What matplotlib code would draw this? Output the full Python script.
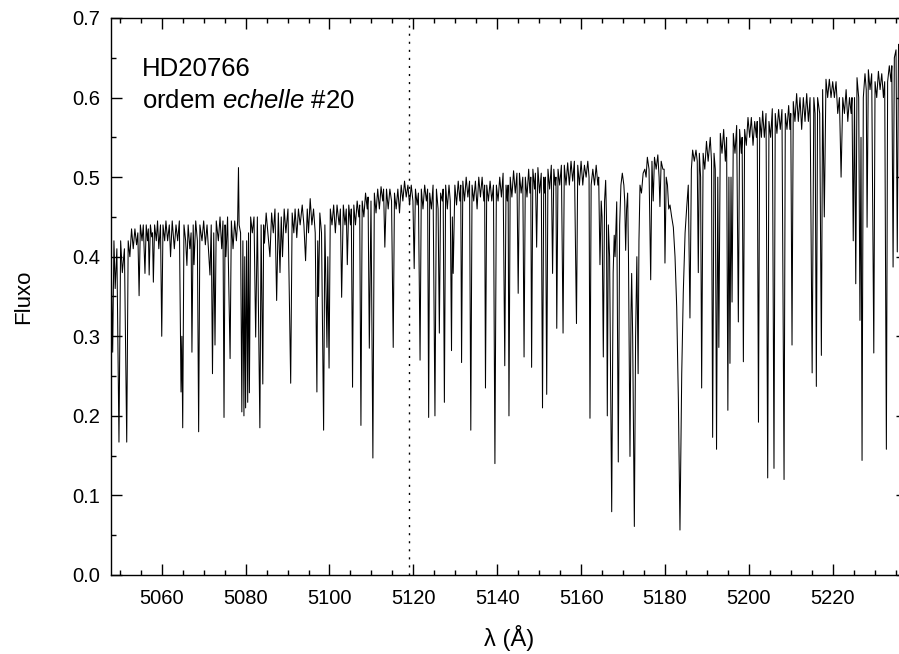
import numpy as np
import matplotlib.pyplot as plt
from matplotlib.ticker import MultipleLocator

plt.rcParams['font.family'] = ['Liberation Sans', 'DejaVu Sans']
plt.rcParams['mathtext.fontset'] = 'custom'
plt.rcParams['mathtext.it'] = 'Liberation Sans:italic'
plt.rcParams['mathtext.rm'] = 'Liberation Sans'

# espectro: (lambda [A], fluxo) - picos e fundos das linhas
reg_5048 = [(5047.9, 0.41), (5048.3, 0.28), (5048.6, 0.42), (5048.9, 0.36), (5049.3, 0.41),
            (5049.8, 0.167), (5050.2, 0.42), (5050.6, 0.38), (5051.1, 0.41), (5051.65, 0.167),
            (5052.0, 0.42), (5052.4, 0.40), (5052.8, 0.435), (5053.2, 0.41), (5053.6, 0.435),
            (5054.0, 0.415), (5054.3, 0.43), (5054.6, 0.351), (5054.9, 0.44), (5055.3, 0.42),
            (5055.6, 0.44), (5056.0, 0.379), (5056.3, 0.44), (5056.6, 0.42), (5056.8, 0.435),
            (5057.0, 0.377), (5057.3, 0.44), (5057.6, 0.425), (5057.8, 0.43), (5058.0, 0.368),
            (5058.3, 0.44), (5058.7, 0.42), (5059.0, 0.445), (5059.3, 0.41), (5059.7, 0.44),
            (5060.0, 0.30), (5060.3, 0.44)]

reg_5060 = [(5060.7, 0.42), (5061.0, 0.445), (5061.4, 0.42), (5061.8, 0.44), (5062.1, 0.40),
            (5062.5, 0.445), (5063.0, 0.41), (5063.4, 0.44), (5063.8, 0.42), (5064.2, 0.445),
            (5064.6, 0.23), (5064.8, 0.30), (5065.0, 0.185), (5065.3, 0.44), (5065.7, 0.42),
            (5066.0, 0.389), (5066.3, 0.44), (5066.7, 0.41), (5067.0, 0.43), (5067.2, 0.28),
            (5067.5, 0.44), (5067.7, 0.39), (5068.1, 0.445), (5068.5, 0.42), (5068.8, 0.18),
            (5069.1, 0.44), (5069.6, 0.42), (5070.0, 0.445), (5070.4, 0.415), (5070.8, 0.44),
            (5071.5, 0.377), (5071.8, 0.44), (5072.1, 0.253), (5072.4, 0.43), (5072.7, 0.289),
            (5073.0, 0.445), (5073.5, 0.42), (5073.9, 0.45), (5074.3, 0.41), (5074.6, 0.445),
            (5074.85, 0.198), (5075.1, 0.44), (5075.3, 0.40), (5075.7, 0.45), (5076.3, 0.272),
            (5076.6, 0.445), (5077.0, 0.41), (5077.4, 0.445), (5077.8, 0.42), (5078.1, 0.445),
            (5078.3, 0.512), (5078.45, 0.44), (5078.8, 0.43), (5079.1, 0.205), (5079.35, 0.42),
            (5079.6, 0.20), (5079.8, 0.40), (5080.0, 0.21), (5080.25, 0.42), (5080.5, 0.217),
            (5080.7, 0.43), (5080.9, 0.229), (5081.2, 0.45)]

reg_5081 = [(5081.6, 0.43), (5082.0, 0.45), (5082.4, 0.299), (5082.8, 0.45), (5083.4, 0.185),
            (5083.7, 0.44), (5084.1, 0.24), (5084.3, 0.44), (5084.5, 0.417), (5084.9, 0.455),
            (5085.3, 0.43), (5085.8, 0.40), (5086.2, 0.455), (5086.6, 0.43), (5087.0, 0.46),
            (5087.4, 0.345), (5087.8, 0.455), (5088.2, 0.38), (5088.5, 0.45), (5088.8, 0.40),
            (5089.2, 0.46), (5089.6, 0.43), (5090.1, 0.46), (5090.75, 0.241), (5091.1, 0.455),
            (5091.5, 0.43), (5091.8, 0.46), (5092.2, 0.424), (5092.6, 0.46), (5093.0, 0.44),
            (5093.5, 0.465), (5093.9, 0.44), (5094.3, 0.395), (5094.7, 0.46), (5095.0, 0.43),
            (5095.4, 0.473), (5095.8, 0.44), (5096.2, 0.46), (5096.6, 0.43), (5097.0, 0.23),
            (5097.2, 0.42), (5097.4, 0.35), (5097.7, 0.455), (5098.1, 0.43), (5098.6, 0.182),
            (5098.9, 0.44), (5099.4, 0.286), (5099.6, 0.40), (5099.9, 0.26), (5100.2, 0.46)]

reg_5100 = [(5100.6, 0.44), (5101.0, 0.465), (5101.4, 0.43), (5101.8, 0.465), (5102.3, 0.44),
            (5102.6, 0.46), (5102.9, 0.349), (5103.3, 0.465), (5103.7, 0.44), (5104.0, 0.46),
            (5104.25, 0.39), (5104.6, 0.465), (5105.0, 0.44), (5105.2, 0.46), (5105.5, 0.236),
            (5105.8, 0.465), (5106.2, 0.44), (5106.6, 0.47), (5107.0, 0.45), (5107.2, 0.465),
            (5107.5, 0.188), (5107.8, 0.47), (5108.2, 0.45), (5108.6, 0.48), (5109.0, 0.46),
            (5109.2, 0.475), (5109.5, 0.285), (5109.9, 0.47), (5110.35, 0.147), (5110.7, 0.48),
            (5111.1, 0.455), (5111.5, 0.485), (5111.9, 0.46), (5112.3, 0.488), (5112.7, 0.47),
            (5112.9, 0.485), (5113.2, 0.412), (5113.6, 0.485), (5114.0, 0.46), (5114.4, 0.485),
            (5114.8, 0.47), (5115.2, 0.286), (5115.5, 0.48), (5115.9, 0.46), (5116.3, 0.485),
            (5116.7, 0.455), (5117.1, 0.49), (5117.5, 0.47), (5117.9, 0.495), (5118.3, 0.475),
            (5118.7, 0.49), (5119.1, 0.465), (5119.5, 0.49), (5119.9, 0.47), (5120.2, 0.385),
            (5120.5, 0.485)]

reg_5120 = [(5120.9, 0.465), (5121.2, 0.48), (5121.6, 0.27), (5121.9, 0.485), (5122.3, 0.46),
            (5122.7, 0.49), (5123.1, 0.47), (5123.4, 0.485), (5123.65, 0.198), (5123.9, 0.48),
            (5124.3, 0.46), (5124.7, 0.49), (5125.15, 0.20), (5125.5, 0.485), (5125.9, 0.46),
            (5126.2, 0.304), (5126.5, 0.48), (5126.9, 0.47), (5127.1, 0.485), (5127.4, 0.217),
            (5127.7, 0.49), (5128.1, 0.46), (5128.5, 0.49), (5128.8, 0.47), (5129.1, 0.282),
            (5129.3, 0.45), (5129.5, 0.379), (5129.9, 0.49), (5130.3, 0.465), (5130.7, 0.495),
            (5131.1, 0.47), (5131.3, 0.49), (5131.5, 0.267), (5131.8, 0.495), (5132.2, 0.47),
            (5132.6, 0.50), (5133.0, 0.475), (5133.4, 0.495), (5133.7, 0.182), (5134.0, 0.49),
            (5134.4, 0.47), (5134.8, 0.495), (5135.2, 0.46), (5135.6, 0.50), (5136.0, 0.475),
            (5136.4, 0.50), (5136.8, 0.47), (5137.0, 0.49), (5137.2, 0.235), (5137.5, 0.49),
            (5137.9, 0.47), (5138.3, 0.495), (5138.7, 0.47), (5139.1, 0.49), (5139.45, 0.14),
            (5139.8, 0.49), (5140.2, 0.47)]

reg_5140 = [(5140.6, 0.50), (5141.0, 0.475), (5141.4, 0.505), (5141.8, 0.263), (5142.1, 0.49),
            (5142.4, 0.47), (5142.6, 0.49), (5142.8, 0.20), (5143.1, 0.50), (5143.5, 0.475),
            (5143.9, 0.508), (5144.3, 0.48), (5144.7, 0.505), (5145.0, 0.354), (5145.3, 0.505),
            (5145.7, 0.48), (5146.1, 0.50), (5146.4, 0.274), (5146.7, 0.50), (5147.1, 0.475),
            (5147.5, 0.51), (5147.8, 0.48), (5148.0, 0.50), (5148.2, 0.261), (5148.5, 0.51),
            (5148.9, 0.485), (5149.1, 0.505), (5149.4, 0.412), (5149.7, 0.512), (5150.1, 0.48),
            (5150.5, 0.505), (5150.8, 0.21), (5151.1, 0.50), (5151.3, 0.48), (5151.5, 0.50),
            (5151.8, 0.227), (5152.1, 0.51), (5152.5, 0.485), (5152.9, 0.515), (5153.2, 0.379),
            (5153.5, 0.51), (5153.8, 0.49), (5154.0, 0.50), (5154.2, 0.31), (5154.5, 0.51),
            (5154.9, 0.49), (5155.3, 0.515), (5155.7, 0.304), (5156.0, 0.515), (5156.4, 0.49),
            (5156.8, 0.518), (5157.2, 0.49), (5157.6, 0.52), (5158.0, 0.495), (5158.4, 0.52),
            (5158.9, 0.316), (5159.2, 0.515), (5159.6, 0.49), (5160.0, 0.52)]

# regiao do tripleto do Mg b
reg_5160 = [(5160.4, 0.49), (5160.8, 0.515), (5161.2, 0.50), (5161.6, 0.52), (5161.9, 0.50),
            (5162.12, 0.197), (5162.4, 0.49), (5162.8, 0.51), (5163.2, 0.49), (5163.6, 0.515),
            (5164.0, 0.49), (5164.2, 0.50), (5164.5, 0.39), (5164.8, 0.47), (5165.0, 0.45),
            (5165.3, 0.274), (5165.6, 0.47), (5165.86, 0.496), (5166.05, 0.45), (5166.25, 0.20),
            (5166.5, 0.44), (5166.8, 0.40), (5167.3, 0.0795), (5167.65, 0.38), (5167.9, 0.427),
            (5168.1, 0.40), (5168.5, 0.469), (5168.87, 0.142), (5169.2, 0.44), (5169.5, 0.49),
            (5169.83, 0.505), (5170.2, 0.49), (5170.4, 0.47), (5170.63, 0.408), (5170.85, 0.46),
            (5171.1, 0.48), (5171.3, 0.40), (5171.66, 0.149), (5171.9, 0.33), (5172.06, 0.379),
            (5172.3, 0.30), (5172.7, 0.061), (5173.0, 0.30), (5173.3, 0.40), (5173.6, 0.253),
            (5173.8, 0.42), (5174.05, 0.49), (5174.4, 0.48), (5174.8, 0.505), (5175.2, 0.51),
            (5175.5, 0.50), (5175.8, 0.525), (5176.2, 0.51), (5176.6, 0.371), (5176.9, 0.52),
            (5177.2, 0.47), (5177.5, 0.525), (5177.9, 0.51), (5178.3, 0.528), (5178.6, 0.50),
            (5178.8, 0.463), (5179.1, 0.52), (5179.5, 0.51), (5179.8, 0.51), (5180.0, 0.392),
            (5180.3, 0.50), (5180.6, 0.49), (5180.9, 0.46), (5181.2, 0.465)]

reg_5181 = [(5181.6, 0.45), (5182.0, 0.437), (5182.4, 0.40), (5182.8, 0.337), (5183.2, 0.22),
            (5183.58, 0.0565), (5184.0, 0.253), (5184.37, 0.355), (5184.8, 0.43), (5185.2, 0.463),
            (5185.56, 0.49), (5185.96, 0.323), (5186.3, 0.51), (5186.6, 0.534), (5187.0, 0.52),
            (5187.4, 0.534), (5187.7, 0.52), (5187.95, 0.38), (5188.2, 0.53), (5188.5, 0.50),
            (5188.75, 0.235), (5189.1, 0.53), (5189.5, 0.51), (5189.9, 0.545), (5190.3, 0.52),
            (5190.8, 0.55), (5191.1, 0.52), (5191.37, 0.173), (5191.7, 0.53), (5192.0, 0.51),
            (5192.3, 0.158), (5192.6, 0.50), (5192.85, 0.286), (5193.2, 0.555), (5193.6, 0.53),
            (5194.0, 0.56), (5194.4, 0.52), (5194.7, 0.55), (5195.0, 0.207), (5195.25, 0.50),
            (5195.5, 0.266), (5195.75, 0.50), (5196.0, 0.343), (5196.3, 0.555), (5196.7, 0.53),
            (5197.1, 0.565), (5197.5, 0.318), (5197.8, 0.56), (5198.2, 0.53), (5198.4, 0.55),
            (5198.7, 0.268), (5199.0, 0.56), (5199.4, 0.54), (5199.8, 0.575), (5200.2, 0.55)]

reg_5200 = [(5200.6, 0.575), (5201.0, 0.54), (5201.4, 0.57), (5201.8, 0.55), (5202.0, 0.57),
            (5202.3, 0.192), (5202.6, 0.575), (5203.0, 0.55), (5203.3, 0.583), (5203.7, 0.55),
            (5204.1, 0.58), (5204.5, 0.122), (5204.8, 0.57), (5205.2, 0.55), (5205.6, 0.586),
            (5206.0, 0.134), (5206.3, 0.58), (5206.7, 0.555), (5207.1, 0.585), (5207.5, 0.56),
            (5207.9, 0.585), (5208.4, 0.12), (5208.7, 0.58), (5209.1, 0.56), (5209.5, 0.59),
            (5209.8, 0.56), (5210.0, 0.58), (5210.3, 0.289), (5210.6, 0.595), (5211.0, 0.57),
            (5211.4, 0.605), (5211.8, 0.57), (5212.2, 0.60), (5212.6, 0.56), (5213.0, 0.60),
            (5213.4, 0.57), (5213.8, 0.605), (5214.2, 0.57), (5214.6, 0.60), (5215.1, 0.254),
            (5215.5, 0.60), (5215.8, 0.58), (5216.1, 0.237), (5216.4, 0.60), (5216.9, 0.58),
            (5217.3, 0.276), (5217.6, 0.61), (5218.0, 0.45), (5218.4, 0.623), (5218.8, 0.60),
            (5219.2, 0.623), (5219.6, 0.60), (5220.0, 0.62)]

reg_5220 = [(5220.4, 0.60), (5220.8, 0.62), (5221.2, 0.58), (5221.6, 0.60), (5222.0, 0.50),
            (5222.4, 0.60), (5222.8, 0.58), (5223.2, 0.61), (5223.6, 0.57), (5224.0, 0.60),
            (5224.4, 0.58), (5224.6, 0.60), (5224.9, 0.42), (5225.2, 0.60), (5225.5, 0.366),
            (5225.8, 0.625), (5226.2, 0.60), (5226.5, 0.32), (5226.75, 0.55), (5227.0, 0.144),
            (5227.3, 0.60), (5227.7, 0.63), (5228.0, 0.61), (5228.2, 0.437), (5228.5, 0.635),
            (5228.9, 0.61), (5229.3, 0.63), (5229.8, 0.279), (5230.1, 0.62), (5230.5, 0.60),
            (5230.9, 0.633), (5231.3, 0.61), (5231.7, 0.63), (5232.1, 0.60), (5232.4, 0.62),
            (5232.8, 0.158), (5233.1, 0.62), (5233.5, 0.64), (5233.9, 0.62), (5234.1, 0.64),
            (5234.4, 0.387), (5234.7, 0.65), (5235.1, 0.66), (5235.4, 0.406), (5235.7, 0.667),
            (5236.2, 0.65), (5236.7, 0.67), (5237.2, 0.66), (5237.6, 0.67)]

regioes = [reg_5048, reg_5060, reg_5081, reg_5100, reg_5120,
           reg_5140, reg_5160, reg_5181, reg_5200, reg_5220]
espectro = np.array([p for r in regioes for p in r])
lam = espectro[:, 0]
fluxo = espectro[:, 1]

lam_ref = 5119.0  # linha pontilhada

fig = plt.figure(figsize=(8.99, 6.54), dpi=100)
ax = fig.add_axes([111/899, 79/654, 795.5/899, 557/654])

ax.plot(lam, fluxo, color='k', lw=0.75)
ax.axvline(lam_ref, color='k', lw=1.0, ls=(0, (1.5, 4.3)))

ax.set_xlim(5047.9, 5237.6)
ax.set_ylim(0, 0.7)
ax.xaxis.set_major_locator(MultipleLocator(20))
ax.xaxis.set_minor_locator(MultipleLocator(5))
ax.yaxis.set_major_locator(MultipleLocator(0.1))
ax.yaxis.set_minor_locator(MultipleLocator(0.05))
ax.yaxis.set_major_formatter(plt.FormatStrFormatter('%.1f'))
ax.tick_params(which='both', direction='in', top=True, right=True, width=1.0,
               labelsize=14.5)
ax.tick_params(which='major', length=7.7)
ax.tick_params(which='minor', length=3.6)
ax.tick_params(axis='x', pad=10)
ax.tick_params(axis='y', pad=8)
for s in ax.spines.values():
    s.set_linewidth(1.0)

ax.set_xlabel('λ (Å)', fontsize=17, va='center')
ax.set_ylabel('Fluxo', fontsize=16, va='center')
ax.xaxis.set_label_coords(0.5, -0.113)
ax.yaxis.set_label_coords(-0.1094, 0.5)

ax.text(0.0386, 0.896, 'HD20766', transform=ax.transAxes, fontsize=18.5)
ax.text(0.0386, 0.839, r'ordem $\mathit{echelle}$ #20', transform=ax.transAxes, fontsize=18.5)

fig.savefig('out.png', dpi=100)
